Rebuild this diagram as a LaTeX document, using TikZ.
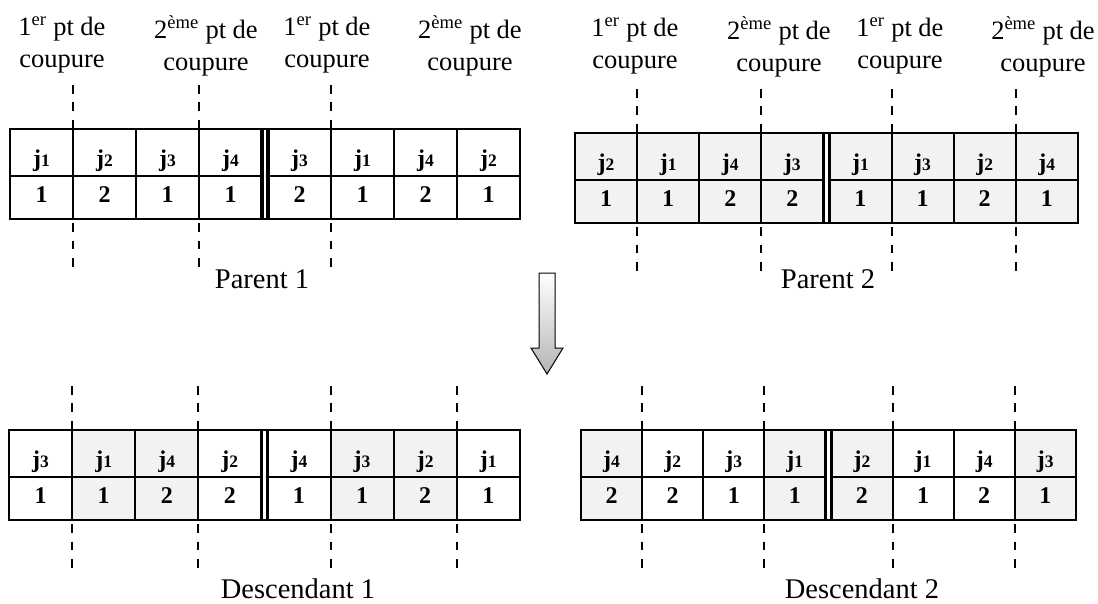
\documentclass[tikz,border=0pt]{standalone}
\usepackage{fontspec}
\setmainfont{Liberation Serif}
\usetikzlibrary{shadings}
\definecolor{cellgray}{HTML}{F2F2F2}
\definecolor{arrowbot}{HTML}{B4B4B4}

\begin{document}
\begin{tikzpicture}[x=1pt,y=-1pt,line join=miter,
  cut/.style={line width=2pt,dash pattern=on 8.5pt off 8.8pt},
  gene/.style={font=\fontsize{24}{26}\selectfont\bfseries,anchor=base,inner sep=0pt},
  cutlabel/.style={font=\fontsize{26.5}{32}\selectfont,align=center,anchor=base,inner sep=0pt},
  tablename/.style={font=\fontsize{28.5}{32}\selectfont,anchor=base,inner sep=0pt}]
  \useasboundingbox (0,0) rectangle (1098,603);

  % ---- the four chromosomes: name/x/y/cell width/cut positions/genes ----
  \foreach \tname/\tx/\ty/\cw/\cuts/\cells in {
      p1/10/129/63/{1,3,5}/{1/1/white,2/2/white,3/1/white,4/1/white,3/2/white,1/1/white,4/2/white,2/1/white},
      p2/575/133/62.1/{1,3,5,7}/{2/1/cellgray,1/1/cellgray,4/2/cellgray,3/2/cellgray,1/1/cellgray,3/1/cellgray,2/2/cellgray,4/1/cellgray},
      d1/9/430/63.1/{1,3,5,7}/{3/1/white,1/1/cellgray,4/2/cellgray,2/2/white,4/1/white,3/1/cellgray,2/2/cellgray,1/1/white},
      d2/581/430/61.1/{1,3,5,7}/{4/2/cellgray,2/2/white,3/1/white,1/1/cellgray,2/2/cellgray,1/1/white,4/2/white,3/1/cellgray}}{
    \begin{scope}[shift={(\tx,\ty)}]
      % cells, job on top and machine below
      \foreach \jb/\m/\fc [count=\k from 0] in \cells{
        \pgfmathsetmacro\xa{\k*\cw+(\k>3)*6}
        \filldraw[fill=\fc,line width=2pt] (\xa,0) rectangle ++(\cw,47) (\xa,47) rectangle ++(\cw,43);
        \node[gene] (\tname j\k) at (\xa+\cw/2,37.5) {j{\fontsize{17.5}{18}\selectfont\jb}};
        \node[gene] (\tname m\k) at (\xa+\cw/2,73) {\m};
      }
      % outer frame and double bar between the two halves
      \draw[line width=2.6pt] (0,0) rectangle ({8*\cw+6},90);
      \draw[line width=3.2pt] ({4*\cw},0) -- ({4*\cw},90) ({4*\cw+6},0) -- ({4*\cw+6},90);
      % cutting points
      \foreach \c in \cuts{
        \pgfmathsetmacro\xc{round(\c*\cw+(\c>3)*6)}
        \draw[cut] (\xc,-44) -- (\xc,143);
      }
    \end{scope}
  }

  % ---- cut labels above the parents (base = last line) ----
  \foreach \lx/\ly/\nb/\sup [count=\i] in {62/67/1/er,206/70/2/ème,327/67/1/er,470/70/2/ème,
      635/68/1/er,779/71/2/ème,900/68/1/er,1043/71/2/ème}{
    \node[cutlabel] (lab\i) at (\lx,\ly) {\nb\textsuperscript{\sup} pt de\\coupure};
  }

  % ---- names under each chromosome ----
  \node[tablename] (name1) at (262,288) {Parent 1};
  \node[tablename] (name2) at (828,288) {Parent 2};
  \node[tablename] (name3) at (298,598) {Descendant 1};
  \node[tablename] (name4) at (862,598) {Descendant 2};

  % ---- crossover arrow ----
  \shadedraw[top color=white,bottom color=arrowbot,draw=black,line width=1pt]
    (539,273) -- (555,273) -- (555,348) -- (563,348) -- (547,374) -- (531,348) -- (539,348) -- cycle;
\end{tikzpicture}
\end{document}
